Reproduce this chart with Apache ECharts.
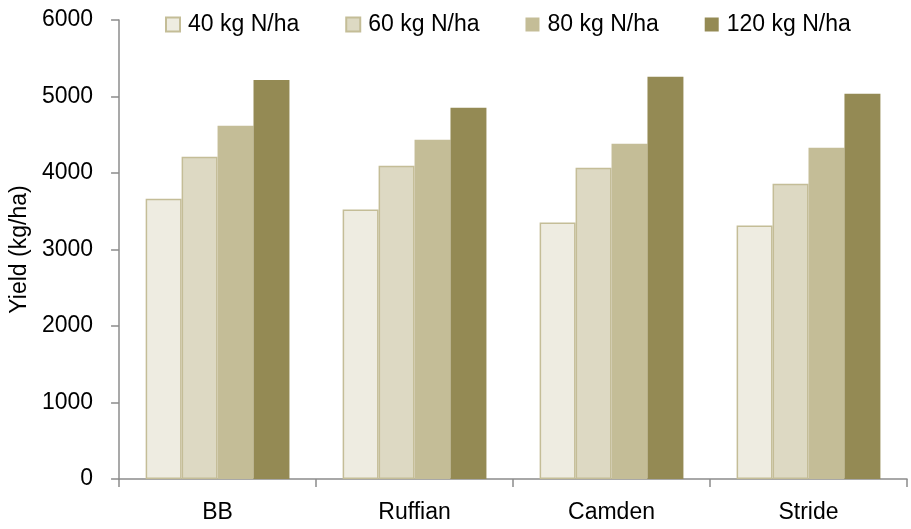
<!DOCTYPE html>
<html>
<head>
<meta charset="utf-8">
<script src="https://cdn.jsdelivr.net/npm/echarts@6/dist/echarts.min.js"></script>
<style>html,body{margin:0;padding:0;background:#fff;}#c{width:911px;height:529px;}</style>
</head>
<body>
<div id="c"></div>
<script>
const categories = ['BB', 'Ruffian', 'Camden', 'Stride'];
const seriesNames = ['40 kg N/ha', '60 kg N/ha', '80 kg N/ha', '120 kg N/ha'];
const n40 = [3665, 3522, 3352, 3313];
const n60 = [4213, 4096, 4070, 3861];
const n80 = [4617, 4435, 4383, 4330];
const n120 = [5217, 4852, 5257, 5035];
const yTicks = [0, 1000, 2000, 3000, 4000, 5000, 6000];

const colors = ['#EEECE1', '#DDD9C3', '#C4BD97', '#948A54'];
const borders = ['#C4BD97', '#C4BD97', '#C4BD97', '#948A54'];
const values = [n40, n60, n80, n120];
const font = 'Liberation Sans';
const fs = 23;

const chart = echarts.init(document.getElementById('c'));
chart.setOption({
  animation: false,
  textStyle: { fontFamily: font },
  legend: {
    top: 8, left: 160,
    itemWidth: 14, itemHeight: 14, itemGap: 46,
    icon: 'rect',
    textStyle: { fontSize: fs, color: '#000', fontFamily: font, padding: [0, 0, 0, 3] },
    data: seriesNames
  },
  grid: { left: 118, right: 4, top: 20, bottom: 50 },
  xAxis: {
    type: 'category',
    data: categories,
    axisLine: { lineStyle: { color: '#8C8C8C', width: 1.5 } },
    axisTick: { show: true, length: 8, lineStyle: { color: '#8C8C8C', width: 1.5 } },
    axisLabel: { fontSize: fs, color: '#000', margin: 22, fontFamily: font }
  },
  yAxis: {
    type: 'value',
    min: yTicks[0], max: yTicks[yTicks.length - 1], interval: 1000,
    name: 'Yield (kg/ha)',
    nameLocation: 'middle',
    nameGap: 83,
    nameTextStyle: { fontSize: fs, color: '#000', fontFamily: font },
    axisLine: { show: true, lineStyle: { color: '#8C8C8C', width: 1.5 } },
    axisTick: { show: true, length: 8, lineStyle: { color: '#8C8C8C', width: 1.5 } },
    splitLine: { show: false },
    axisLabel: { fontSize: fs, color: '#000', margin: 26, fontFamily: font, formatter: v => String(v) }
  },
  series: seriesNames.map((name, i) => ({
    name: name,
    type: 'bar',
    data: values[i],
    barGap: '0%',
    barCategoryGap: '27%',
    itemStyle: { color: colors[i], borderColor: borders[i], borderWidth: i < 2 ? 1.5 : 0 }
  }))
});
</script>
</body>
</html>
